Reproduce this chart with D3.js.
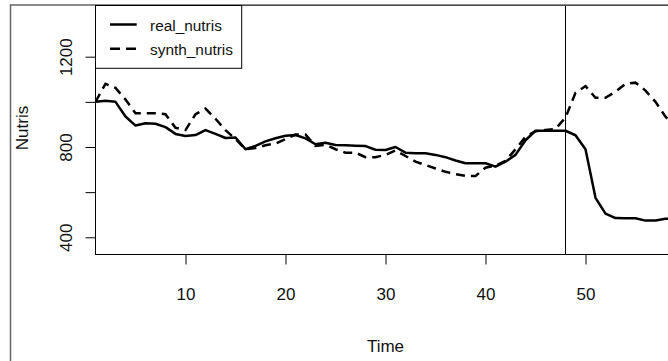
<!DOCTYPE html>
<html>
<head>
<meta charset="utf-8">
<script src="https://cdn.jsdelivr.net/npm/d3@7"></script>
<style>
  body { margin: 0; background: #fff; }
  svg { display: block; font-family: "Liberation Sans", Arial, sans-serif; }
</style>
</head>
<body>
<svg id="chart" width="668" height="361"></svg>
<script>
// time steps 1..59 (the plot runs past the right edge of the picture)
const time = d3.range(1, 60);

const realNutris = [
  1000, 1005, 1000, 935, 895, 905, 903, 888, 858, 849,
  853, 875, 858, 840, 842, 790, 805, 825, 839, 850,
  853, 838, 812, 819, 809, 808, 806, 804, 788, 787,
  800, 775, 772, 772, 765, 755, 740, 728, 728, 728,
  713, 735, 765, 830, 872, 872, 872, 872, 852, 790,
  575, 505, 485, 484, 484, 474, 474, 482, 482
];

const synthNutris = [
  1000, 1080, 1062, 1010, 950, 950, 950, 945, 885, 875,
  945, 970, 925, 875, 835, 790, 795, 808, 815, 835,
  855, 855, 805, 810, 790, 775, 775, 755, 755, 765,
  785, 760, 735, 720, 705, 690, 680, 672, 672, 708,
  718, 738, 790, 845, 870, 875, 880, 930, 1040, 1070,
  1018, 1018, 1045, 1080, 1085, 1050, 1000, 934, 890
];

const xTicks = [10, 20, 30, 40, 50];
const yTicks = [400, 600, 800, 1000, 1200];
const yLabelled = [400, 800, 1200];
const treatmentTime = 48;

const seriesNames = ["real_nutris", "synth_nutris"];

// plot region
const plotLeft = 95.5, plotTop = 5.5, plotBottom = 254.5, plotRight = 720;

const svg = d3.select("#chart");

const x = d3.scaleLinear().domain([1, 61]).range([plotLeft, plotLeft + 600]);
const y = d3.scaleLinear().domain([400, 1200]).range([237.3, 56.7]);

svg.append("defs").append("clipPath")
  .attr("id", "plot-clip")
  .append("rect")
  .attr("x", plotLeft).attr("y", plotTop)
  .attr("width", plotRight - plotLeft).attr("height", plotBottom - plotTop);

const plot = svg.append("g").attr("clip-path", "url(#plot-clip)");

const line = d3.line()
  .x((d, i) => x(time[i]))
  .y(d => y(d));

plot.append("path")
  .datum(realNutris)
  .attr("fill", "none")
  .attr("stroke", "#000")
  .attr("stroke-width", 2.5)
  .attr("stroke-linejoin", "round")
  .attr("d", line);

plot.append("path")
  .datum(synthNutris)
  .attr("fill", "none")
  .attr("stroke", "#000")
  .attr("stroke-width", 2.5)
  .attr("stroke-dasharray", "9,6")
  .attr("d", line);

// vertical line at treatment
plot.append("line")
  .attr("x1", x(treatmentTime)).attr("x2", x(treatmentTime))
  .attr("y1", plotTop).attr("y2", plotBottom)
  .attr("stroke", "#000")
  .attr("stroke-width", 1);

// x axis
const xAxis = svg.append("g")
  .attr("transform", `translate(0,${plotBottom})`)
  .call(d3.axisBottom(x).tickValues(xTicks).tickSize(10).tickPadding(23.5).tickFormat(d3.format("d")));
xAxis.select(".domain").remove();
xAxis.selectAll("line").attr("stroke", "#000");
xAxis.selectAll("text")
  .attr("fill", "#111")
  .style("font-size", "17px")
  .style("font-family", "'Liberation Sans', Arial, sans-serif");

// y axis
const yAxis = svg.append("g")
  .attr("transform", `translate(${plotLeft},0)`)
  .call(d3.axisLeft(y).tickValues(yTicks).tickSize(10)
    .tickFormat(d => yLabelled.includes(d) ? d3.format("d")(d) : ""));
yAxis.select(".domain").remove();
yAxis.selectAll("line").attr("stroke", "#000");
yAxis.selectAll("text")
  .attr("x", null).attr("dy", null)
  .attr("transform", "translate(-24,0) rotate(-90)")
  .attr("text-anchor", "middle")
  .attr("fill", "#111")
  .style("font-size", "17px")
  .style("font-family", "'Liberation Sans', Arial, sans-serif");

// plot box
svg.append("rect")
  .attr("x", plotLeft).attr("y", plotTop)
  .attr("width", plotRight - plotLeft).attr("height", plotBottom - plotTop)
  .attr("fill", "none")
  .attr("stroke", "#000")
  .attr("stroke-width", 1);

// outer frame
svg.append("rect")
  .attr("x", 10.5).attr("y", 5)
  .attr("width", 700).attr("height", 400)
  .attr("fill", "none")
  .attr("stroke", "#666")
  .attr("stroke-width", 1.5);

// axis titles
svg.append("text")
  .attr("x", x(30)).attr("y", 351.5)
  .attr("text-anchor", "middle")
  .attr("fill", "#111")
  .style("font-size", "17px")
  .text("Time");

svg.append("text")
  .attr("transform", `translate(28,128) rotate(-90)`)
  .attr("text-anchor", "middle")
  .attr("fill", "#111")
  .style("font-size", "17px")
  .text("Nutris");

// legend
const legend = svg.append("g");
legend.append("rect")
  .attr("x", plotLeft).attr("y", plotTop)
  .attr("width", 241.7 - plotLeft).attr("height", 68.3 - plotTop)
  .attr("fill", "#fff")
  .attr("stroke", "#000")
  .attr("stroke-width", 1);

const items = legend.selectAll(".legend-item")
  .data(seriesNames)
  .enter()
  .append("g")
  .attr("class", "legend-item")
  .attr("transform", (_, i) => `translate(0, ${i * 24.3})`);

items.append("line")
  .attr("x1", 110).attr("x2", 136.7)
  .attr("y1", 24.5).attr("y2", 24.5)
  .attr("stroke", "#000")
  .attr("stroke-width", 2.5)
  .attr("stroke-dasharray", (_, i) => i === 1 ? "10,6" : null);

items.append("text")
  .attr("x", 150).attr("y", 30.5)
  .attr("fill", "#111")
  .style("font-size", "15.4px")
  .text(d => d);
</script>
</body>
</html>
